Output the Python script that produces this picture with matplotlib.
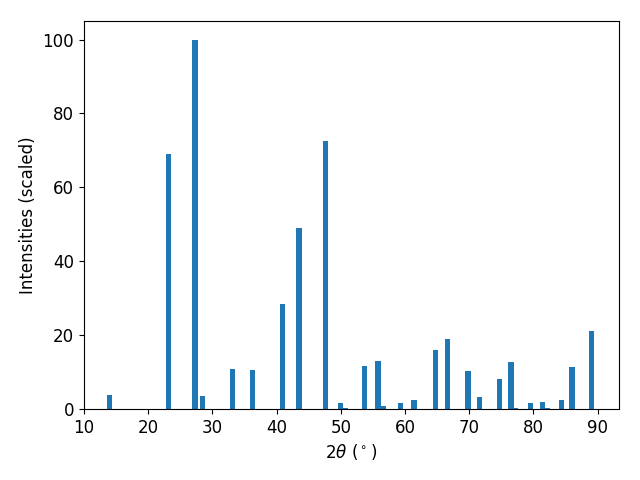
import matplotlib
matplotlib.use("Agg")
import matplotlib.pyplot as plt

two_theta = [14.0, 23.2, 27.3, 28.5, 33.1, 36.2, 40.9, 43.5, 47.6, 49.9, 50.7,
             53.7, 55.8, 56.6, 59.3, 61.4, 64.7, 66.6, 69.8, 71.6, 74.7, 76.5,
             77.2, 79.5, 81.4, 82.1, 84.3, 86.0, 89.0]
intensity = [3.8, 69.0, 100.0, 3.5, 10.8, 10.5, 28.5, 49.0, 72.6, 1.6, 0.3,
             11.7, 13.0, 0.8, 1.6, 2.4, 16.0, 19.0, 10.3, 3.2, 8.1, 12.7,
             0.3, 1.6, 1.9, 0.3, 2.4, 11.4, 21.1]

fig, ax = plt.subplots(figsize=(6.4, 4.8), dpi=100)
ax.bar(two_theta, intensity, width=0.8, color="#1f77b4")
ax.set_xlabel(r"$2\theta$ ($^\circ$)", fontsize=12)
ax.set_ylabel("Intensities (scaled)", fontsize=12)
ax.tick_params(labelsize=12)
ax.set_xlim(10, 93.3)
fig.subplots_adjust(left=0.131, right=0.967, top=0.956, bottom=0.148)
fig.savefig("out.png")
